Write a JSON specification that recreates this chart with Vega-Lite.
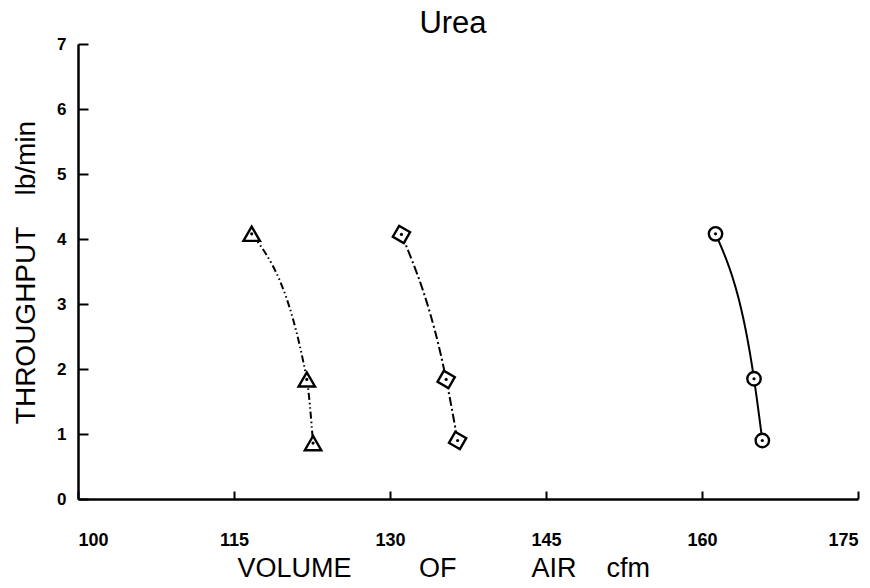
{
  "$schema": "https://vega.github.io/schema/vega-lite/v6.json",
  "width": 780,
  "height": 455,
  "autosize": "none",
  "padding": {"left": 78, "top": 44, "right": 12, "bottom": 89},
  "background": "white",
  "config": {
    "view": {"stroke": null},
    "font": "Liberation Sans",
    "axis": {"grid": false, "domainColor": "black", "domainWidth": 2.5, "tickColor": "black", "tickWidth": 2, "labelColor": "black", "titleColor": "black", "labelFont": "Liberation Sans", "titleFont": "Liberation Sans"}
  },
  "title": {"text": "Urea", "fontSize": 31, "fontWeight": "normal", "font": "Liberation Sans", "color": "black", "anchor": "middle", "dx": -15, "baseline": "top", "offset": 0, "dy": 5},
  "data": {
    "values": [
      {"series": "A", "volume": 116.7, "throughput": 4.08},
      {"series": "A", "volume": 122.0, "throughput": 1.84},
      {"series": "A", "volume": 122.6, "throughput": 0.86},
      {"series": "B", "volume": 131.1, "throughput": 4.07},
      {"series": "B", "volume": 135.4, "throughput": 1.84},
      {"series": "B", "volume": 136.5, "throughput": 0.9},
      {"series": "C", "volume": 161.3, "throughput": 4.08},
      {"series": "C", "volume": 165.0, "throughput": 1.85},
      {"series": "C", "volume": 165.8, "throughput": 0.9}
    ]
  },
  "encoding": {
    "x": {"field": "volume", "type": "quantitative", "scale": {"domain": [100, 175], "nice": false, "zero": false},
      "axis": {"values": [100, 115, 130, 145, 160, 175], "tickSize": -8, "labelPadding": 40, "labelFontSize": 18, "labelFontWeight": "bold", "labelFlush": true,
        "title": "VOLUME\u00a0\u00a0\u00a0\u00a0\u00a0\u00a0\u00a0\u00a0\u00a0OF\u00a0\u00a0\u00a0\u00a0\u00a0\u00a0\u00a0\u00a0\u00a0\u00a0AIR\u00a0\u00a0\u00a0\u00a0cfm",
        "titleFontSize": 27, "titleFontWeight": "normal", "titleAnchor": "start", "titleAlign": "left", "titleX": 159, "titleY": 77, "titleBaseline": "alphabetic"}},
    "y": {"field": "throughput", "type": "quantitative", "scale": {"domain": [0, 7], "nice": false},
      "axis": {"values": [0, 1, 2, 3, 4, 5, 6, 7], "tickSize": -10, "labelPadding": 22, "labelFontSize": 17, "labelFontWeight": "bold", "labelFlush": false,
        "title": "THROUGHPUT\u00a0\u00a0\u00a0\u00a0lb/min", "titleFontSize": 28, "titleFontWeight": "normal", "titleAngle": -90, "titleAnchor": "middle", "titleAlign": "center", "titleX": -44, "titleY": 228, "titleBaseline": "alphabetic"}}
  },
  "layer": [
    {
      "mark": {"type": "line", "color": "black", "strokeWidth": 2, "interpolate": "monotone"},
      "encoding": {
        "detail": {"field": "series"},
        "strokeDash": {"field": "series", "type": "nominal", "scale": {"domain": ["A", "B", "C"], "range": [[7, 3, 1.5, 3, 1.5, 3], [9, 3, 2, 3], [1, 0]]}, "legend": null}
      }
    },
    {
      "transform": [{"filter": "datum.series === 'A'"}],
      "mark": {"type": "point", "shape": "triangle-up", "size": 270, "filled": true, "fill": "white", "stroke": "black", "strokeWidth": 2.4, "opacity": 1}
    },
    {
      "transform": [{"filter": "datum.series === 'B'"}],
      "mark": {"type": "point", "shape": "square", "angle": 30, "size": 160, "filled": true, "fill": "white", "stroke": "black", "strokeWidth": 2.4, "opacity": 1}
    },
    {
      "transform": [{"filter": "datum.series === 'C'"}],
      "mark": {"type": "point", "shape": "circle", "size": 180, "filled": true, "fill": "white", "stroke": "black", "strokeWidth": 2.4, "opacity": 1}
    },
    {
      "mark": {"type": "point", "shape": "circle", "size": 10, "filled": true, "color": "black", "opacity": 1}
    }
  ]
}
